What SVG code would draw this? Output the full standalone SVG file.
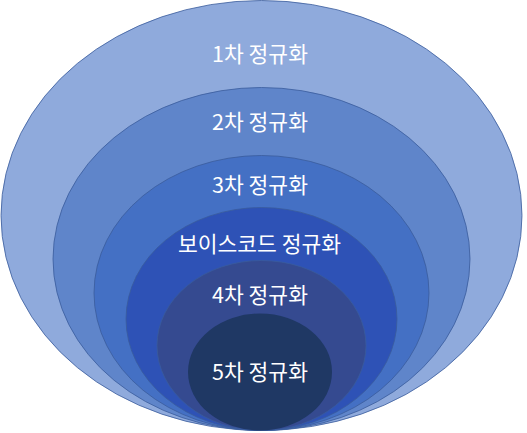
<svg xmlns="http://www.w3.org/2000/svg" width="527" height="433" viewBox="0 0 527 433">
<style>
.e{stroke:#3A5C9C;stroke-width:0.8}
.t{fill:#FFFFFF;font-family:"Noto Sans CJK KR","Noto Sans",sans-serif;font-size:21.5px;text-anchor:middle}
</style>
<rect width="527" height="433" fill="#FFFFFF"/>
<g id="n1"><ellipse class="e" cx="261.5" cy="215.5" rx="260.5" ry="215" fill="#8FAADC"/><text class="t" x="260" y="62">1차 정규화</text></g>
<g id="n2"><ellipse class="e" cx="261.5" cy="259" rx="208.5" ry="171.5" fill="#5F85CA"/><text class="t" x="260" y="130">2차 정규화</text></g>
<g id="n3"><ellipse class="e" cx="261.5" cy="293" rx="167.5" ry="137.5" fill="#4470C4"/><text class="t" x="260" y="193">3차 정규화</text></g>
<g id="n4"><ellipse class="e" cx="261.5" cy="319" rx="135.5" ry="111.5" fill="#2E52B6"/><text class="t" x="259.5" y="252">보이스코드 정규화</text></g>
<g id="n5"><ellipse class="e" cx="261.5" cy="345.5" rx="104.5" ry="85" fill="#354A90"/><text class="t" x="260" y="303">4차 정규화</text></g>
<g id="n6"><ellipse cx="260" cy="372" rx="72" ry="58.5" fill="#1F3864"/><text class="t" x="260" y="380">5차 정규화</text></g>
<g id="connectors"></g>
</svg>
